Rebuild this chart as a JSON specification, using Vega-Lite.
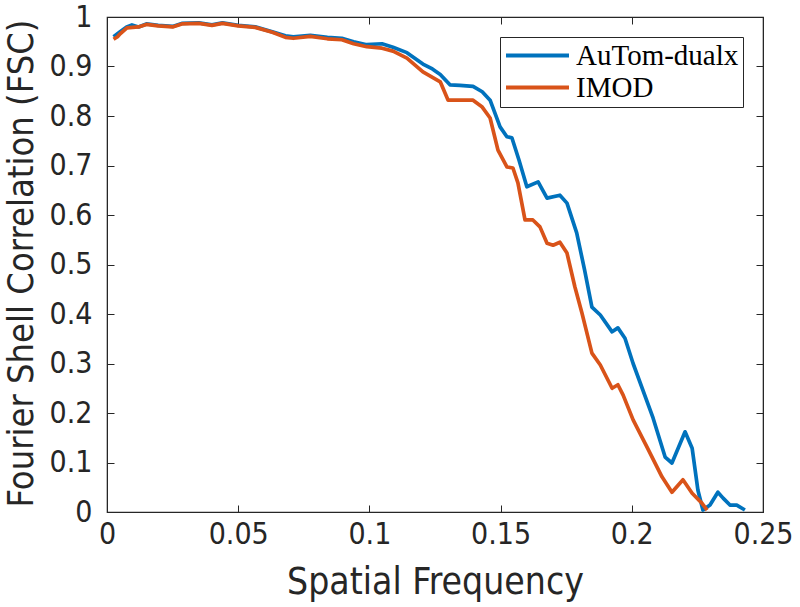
{
  "$schema": "https://vega.github.io/schema/vega-lite/v6.json",
  "autosize": {"type": "none"},
  "width": 656,
  "height": 495,
  "padding": {"left": 107, "top": 17, "right": 37, "bottom": 95},
  "background": "white",
  "config": {
    "view": {"stroke": "#262626", "strokeWidth": 1.2},
    "font": "DejaVu Sans Condensed, DejaVu Sans",
    "axis": {
      "domainColor": "#262626",
      "tickColor": "#262626",
      "labelColor": "#262626",
      "titleColor": "#262626",
      "grid": false,
      "tickSize": -7,
      "labelFontSize": 30,
      "titleFontSize": 37,
      "titleFontWeight": "normal",
      "titleLimit": 1000,
      "labelFont": "DejaVu Sans Condensed, DejaVu Sans",
      "titleFont": "DejaVu Sans Condensed, DejaVu Sans",
      "labelOverlap": false,
      "labelFlush": false,
      "format": "~g"
    }
  },
  "data": {"values": [
    {"f": 0.0025, "fsc": 0.960, "method": "AuTom-dualx"},
    {"f": 0.005, "fsc": 0.970, "method": "AuTom-dualx"},
    {"f": 0.0075, "fsc": 0.980, "method": "AuTom-dualx"},
    {"f": 0.0095, "fsc": 0.984, "method": "AuTom-dualx"},
    {"f": 0.012, "fsc": 0.980, "method": "AuTom-dualx"},
    {"f": 0.015, "fsc": 0.986, "method": "AuTom-dualx"},
    {"f": 0.0195, "fsc": 0.983, "method": "AuTom-dualx"},
    {"f": 0.025, "fsc": 0.981, "method": "AuTom-dualx"},
    {"f": 0.0285, "fsc": 0.987, "method": "AuTom-dualx"},
    {"f": 0.035, "fsc": 0.988, "method": "AuTom-dualx"},
    {"f": 0.04, "fsc": 0.984, "method": "AuTom-dualx"},
    {"f": 0.044, "fsc": 0.988, "method": "AuTom-dualx"},
    {"f": 0.05, "fsc": 0.983, "method": "AuTom-dualx"},
    {"f": 0.0565, "fsc": 0.980, "method": "AuTom-dualx"},
    {"f": 0.063, "fsc": 0.970, "method": "AuTom-dualx"},
    {"f": 0.068, "fsc": 0.962, "method": "AuTom-dualx"},
    {"f": 0.071, "fsc": 0.960, "method": "AuTom-dualx"},
    {"f": 0.0775, "fsc": 0.963, "method": "AuTom-dualx"},
    {"f": 0.084, "fsc": 0.959, "method": "AuTom-dualx"},
    {"f": 0.0895, "fsc": 0.957, "method": "AuTom-dualx"},
    {"f": 0.094, "fsc": 0.950, "method": "AuTom-dualx"},
    {"f": 0.099, "fsc": 0.944, "method": "AuTom-dualx"},
    {"f": 0.1048, "fsc": 0.946, "method": "AuTom-dualx"},
    {"f": 0.109, "fsc": 0.939, "method": "AuTom-dualx"},
    {"f": 0.1143, "fsc": 0.928, "method": "AuTom-dualx"},
    {"f": 0.1204, "fsc": 0.905, "method": "AuTom-dualx"},
    {"f": 0.124, "fsc": 0.895, "method": "AuTom-dualx"},
    {"f": 0.127, "fsc": 0.884, "method": "AuTom-dualx"},
    {"f": 0.1307, "fsc": 0.863, "method": "AuTom-dualx"},
    {"f": 0.1345, "fsc": 0.862, "method": "AuTom-dualx"},
    {"f": 0.1395, "fsc": 0.860, "method": "AuTom-dualx"},
    {"f": 0.143, "fsc": 0.849, "method": "AuTom-dualx"},
    {"f": 0.146, "fsc": 0.832, "method": "AuTom-dualx"},
    {"f": 0.1498, "fsc": 0.778, "method": "AuTom-dualx"},
    {"f": 0.1524, "fsc": 0.758, "method": "AuTom-dualx"},
    {"f": 0.1543, "fsc": 0.756, "method": "AuTom-dualx"},
    {"f": 0.157, "fsc": 0.711, "method": "AuTom-dualx"},
    {"f": 0.160, "fsc": 0.657, "method": "AuTom-dualx"},
    {"f": 0.1643, "fsc": 0.667, "method": "AuTom-dualx"},
    {"f": 0.1677, "fsc": 0.634, "method": "AuTom-dualx"},
    {"f": 0.1726, "fsc": 0.640, "method": "AuTom-dualx"},
    {"f": 0.1753, "fsc": 0.624, "method": "AuTom-dualx"},
    {"f": 0.179, "fsc": 0.564, "method": "AuTom-dualx"},
    {"f": 0.182, "fsc": 0.489, "method": "AuTom-dualx"},
    {"f": 0.1848, "fsc": 0.414, "method": "AuTom-dualx"},
    {"f": 0.188, "fsc": 0.398, "method": "AuTom-dualx"},
    {"f": 0.1925, "fsc": 0.364, "method": "AuTom-dualx"},
    {"f": 0.1947, "fsc": 0.372, "method": "AuTom-dualx"},
    {"f": 0.1974, "fsc": 0.351, "method": "AuTom-dualx"},
    {"f": 0.2005, "fsc": 0.300, "method": "AuTom-dualx"},
    {"f": 0.2081, "fsc": 0.190, "method": "AuTom-dualx"},
    {"f": 0.2127, "fsc": 0.111, "method": "AuTom-dualx"},
    {"f": 0.2153, "fsc": 0.099, "method": "AuTom-dualx"},
    {"f": 0.2203, "fsc": 0.162, "method": "AuTom-dualx"},
    {"f": 0.223, "fsc": 0.129, "method": "AuTom-dualx"},
    {"f": 0.2252, "fsc": 0.044, "method": "AuTom-dualx"},
    {"f": 0.2271, "fsc": 0.004, "method": "AuTom-dualx"},
    {"f": 0.2298, "fsc": 0.014, "method": "AuTom-dualx"},
    {"f": 0.2328, "fsc": 0.040, "method": "AuTom-dualx"},
    {"f": 0.2348, "fsc": 0.028, "method": "AuTom-dualx"},
    {"f": 0.2374, "fsc": 0.014, "method": "AuTom-dualx"},
    {"f": 0.240, "fsc": 0.014, "method": "AuTom-dualx"},
    {"f": 0.2431, "fsc": 0.004, "method": "AuTom-dualx"},
    {"f": 0.0025, "fsc": 0.955, "method": "IMOD"},
    {"f": 0.004, "fsc": 0.960, "method": "IMOD"},
    {"f": 0.005, "fsc": 0.966, "method": "IMOD"},
    {"f": 0.0076, "fsc": 0.978, "method": "IMOD"},
    {"f": 0.012, "fsc": 0.980, "method": "IMOD"},
    {"f": 0.015, "fsc": 0.985, "method": "IMOD"},
    {"f": 0.0195, "fsc": 0.982, "method": "IMOD"},
    {"f": 0.025, "fsc": 0.980, "method": "IMOD"},
    {"f": 0.0285, "fsc": 0.986, "method": "IMOD"},
    {"f": 0.035, "fsc": 0.987, "method": "IMOD"},
    {"f": 0.04, "fsc": 0.983, "method": "IMOD"},
    {"f": 0.044, "fsc": 0.987, "method": "IMOD"},
    {"f": 0.05, "fsc": 0.982, "method": "IMOD"},
    {"f": 0.0565, "fsc": 0.979, "method": "IMOD"},
    {"f": 0.063, "fsc": 0.969, "method": "IMOD"},
    {"f": 0.068, "fsc": 0.959, "method": "IMOD"},
    {"f": 0.071, "fsc": 0.957, "method": "IMOD"},
    {"f": 0.0775, "fsc": 0.961, "method": "IMOD"},
    {"f": 0.084, "fsc": 0.956, "method": "IMOD"},
    {"f": 0.0895, "fsc": 0.954, "method": "IMOD"},
    {"f": 0.094, "fsc": 0.946, "method": "IMOD"},
    {"f": 0.099, "fsc": 0.940, "method": "IMOD"},
    {"f": 0.1048, "fsc": 0.937, "method": "IMOD"},
    {"f": 0.109, "fsc": 0.931, "method": "IMOD"},
    {"f": 0.1143, "fsc": 0.917, "method": "IMOD"},
    {"f": 0.1204, "fsc": 0.889, "method": "IMOD"},
    {"f": 0.127, "fsc": 0.869, "method": "IMOD"},
    {"f": 0.130, "fsc": 0.832, "method": "IMOD"},
    {"f": 0.1395, "fsc": 0.832, "method": "IMOD"},
    {"f": 0.143, "fsc": 0.818, "method": "IMOD"},
    {"f": 0.146, "fsc": 0.796, "method": "IMOD"},
    {"f": 0.149, "fsc": 0.731, "method": "IMOD"},
    {"f": 0.1524, "fsc": 0.697, "method": "IMOD"},
    {"f": 0.1547, "fsc": 0.695, "method": "IMOD"},
    {"f": 0.1566, "fsc": 0.665, "method": "IMOD"},
    {"f": 0.1593, "fsc": 0.590, "method": "IMOD"},
    {"f": 0.1623, "fsc": 0.590, "method": "IMOD"},
    {"f": 0.165, "fsc": 0.576, "method": "IMOD"},
    {"f": 0.1677, "fsc": 0.543, "method": "IMOD"},
    {"f": 0.170, "fsc": 0.539, "method": "IMOD"},
    {"f": 0.1726, "fsc": 0.545, "method": "IMOD"},
    {"f": 0.1753, "fsc": 0.523, "method": "IMOD"},
    {"f": 0.1783, "fsc": 0.455, "method": "IMOD"},
    {"f": 0.181, "fsc": 0.402, "method": "IMOD"},
    {"f": 0.1848, "fsc": 0.321, "method": "IMOD"},
    {"f": 0.188, "fsc": 0.297, "method": "IMOD"},
    {"f": 0.1925, "fsc": 0.250, "method": "IMOD"},
    {"f": 0.1947, "fsc": 0.257, "method": "IMOD"},
    {"f": 0.1967, "fsc": 0.236, "method": "IMOD"},
    {"f": 0.2005, "fsc": 0.186, "method": "IMOD"},
    {"f": 0.2058, "fsc": 0.131, "method": "IMOD"},
    {"f": 0.2115, "fsc": 0.071, "method": "IMOD"},
    {"f": 0.2153, "fsc": 0.040, "method": "IMOD"},
    {"f": 0.2195, "fsc": 0.065, "method": "IMOD"},
    {"f": 0.223, "fsc": 0.038, "method": "IMOD"},
    {"f": 0.2267, "fsc": 0.018, "method": "IMOD"},
    {"f": 0.2287, "fsc": 0.004, "method": "IMOD"}
  ]},
  "layer": [
    {
      "mark": {"type": "line", "strokeWidth": 3.7, "strokeJoin": "round", "clip": true},
      "encoding": {
        "x": {"field": "f", "type": "quantitative",
              "scale": {"domain": [0, 0.25], "nice": false, "zero": false},
              "axis": {"orient": "bottom", "title": "Spatial Frequency", "values": [0, 0.05, 0.1, 0.15, 0.2, 0.25],
                       "labelPadding": 14, "titleX": 328, "titleY": 70, "titleBaseline": "middle"}},
        "y": {"field": "fsc", "type": "quantitative",
              "scale": {"domain": [0, 1], "nice": false, "zero": false},
              "axis": {"orient": "left", "title": "Fourier Shell Correlation (FSC)",
                       "values": [0, 0.1, 0.2, 0.3, 0.4, 0.5, 0.6, 0.7, 0.8, 0.9, 1],
                       "titleFontSize": 36,
                       "labelPadding": 22, "titleX": -86, "titleY": 246, "titleBaseline": "middle", "titleAngle": -90}},
        "color": {"field": "method", "type": "nominal",
                  "scale": {"domain": ["AuTom-dualx", "IMOD"], "range": ["#0072BD", "#D95319"]},
                  "legend": {"title": null, "orient": "none", "legendX": 393, "legendY": 20,
                             "strokeColor": "#262626", "fillColor": "white", "padding": 4,
                             "symbolType": "M-3,0H3", "symbolSize": 441, "symbolStrokeWidth": 4,
                             "symbolOffset": 19, "labelOffset": 24, "rowPadding": 2, "labelLimit": 400,
                             "labelFont": "Liberation Serif", "labelFontSize": 29, "labelColor": "black"}}
      }
    },
    {
      "mark": {"type": "line", "strokeOpacity": 0},
      "encoding": {
        "x": {"field": "f", "type": "quantitative",
              "scale": {"domain": [0, 0.25], "nice": false, "zero": false},
              "axis": {"orient": "top", "title": null, "labels": false, "values": [0, 0.05, 0.1, 0.15, 0.2, 0.25]}},
        "y": {"field": "fsc", "type": "quantitative",
              "scale": {"domain": [0, 1], "nice": false, "zero": false},
              "axis": {"orient": "right", "title": null, "labels": false,
                       "values": [0, 0.1, 0.2, 0.3, 0.4, 0.5, 0.6, 0.7, 0.8, 0.9, 1]}},
        "detail": {"field": "method", "type": "nominal"}
      }
    }
  ],
  "resolve": {"axis": {"x": "independent", "y": "independent"}}
}
